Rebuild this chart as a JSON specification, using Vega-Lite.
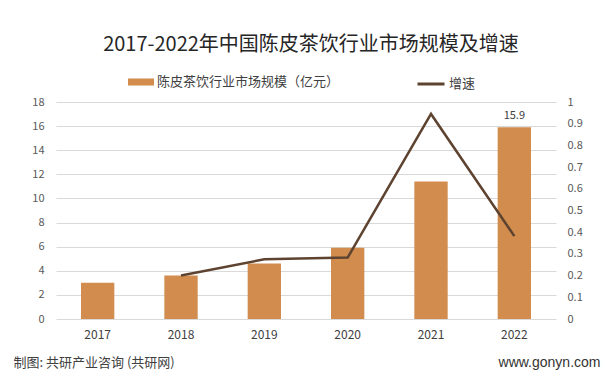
{
  "$schema": "https://vega.github.io/schema/vega-lite/v6.json",
  "autosize": {"type": "none"},
  "width": 500,
  "height": 217,
  "padding": {"left": 56, "top": 102, "right": 57, "bottom": 65},
  "background": "white",
  "config": {
    "font": "Noto Sans CJK SC",
    "view": {"stroke": null},
    "legend": {"padding": 0, "labelLimit": 400}
  },
  "title": {
    "text": "2017-2022年中国陈皮茶饮行业市场规模及增速",
    "fontSize": 20,
    "font": "Noto Sans CJK SC",
    "fontWeight": "normal",
    "color": "#262626",
    "anchor": "middle",
    "baseline": "middle",
    "offset": 0,
    "dx": 5,
    "dy": -4
  },
  "data": {
    "values": [
      {"year": "2017", "size": 3.0, "growth": null},
      {"year": "2018", "size": 3.6, "growth": 0.2},
      {"year": "2019", "size": 4.6, "growth": 0.275},
      {"year": "2020", "size": 5.9, "growth": 0.283},
      {"year": "2021", "size": 11.4, "growth": 0.945},
      {"year": "2022", "size": 15.9, "growth": 0.382}
    ]
  },
  "encoding": {
    "x": {
      "field": "year",
      "type": "ordinal",
      "scale": {"paddingInner": 0.6, "paddingOuter": 0.3},
      "axis": {
        "labelAngle": 0,
        "domain": false,
        "ticks": false,
        "labelPadding": 10,
        "labelFontSize": 12,
        "labelColor": "#404040",
        "title": "制图: 共研产业咨询 (共研网)",
        "titleX": -43,
        "titleY": 43,
        "titleAlign": "left",
        "titleBaseline": "middle",
        "titleFontSize": 13,
        "titleFontWeight": "normal",
        "titleColor": "#404040"
      }
    }
  },
  "layer": [
    {
      "mark": {"type": "bar"},
      "encoding": {
        "y": {
          "field": "size",
          "type": "quantitative",
          "scale": {"domain": [0, 18]},
          "axis": {
            "values": [0, 2, 4, 6, 8, 10, 12, 14, 16, 18],
            "grid": true,
            "gridColor": "#d9d9d9",
            "domain": false,
            "ticks": false,
            "labelPadding": 12,
            "labelFontSize": 11,
            "labelColor": "#595959",
            "title": null
          }
        },
        "fill": {
          "datum": "陈皮茶饮行业市场规模（亿元）",
          "scale": {"range": ["#d18c4e"]},
          "legend": {
            "orient": "none",
            "legendX": 72,
            "legendY": -33,
            "title": null,
            "symbolType": "M-1,-0.27L1,-0.27L1,0.27L-1,0.27Z",
            "symbolSize": 676,
            "symbolStrokeWidth": 0,
            "labelFontSize": 13,
            "labelColor": "#404040",
            "labelOffset": 3,
            "labelLimit": 400
          }
        }
      }
    },
    {
      "mark": {"type": "text", "baseline": "alphabetic", "dy": -8, "fontSize": 11, "color": "#404040"},
      "transform": [{"filter": "datum.year == '2022'"}],
      "encoding": {
        "y": {"field": "size", "type": "quantitative", "scale": {"domain": [0, 18]}, "axis": null},
        "text": {"field": "size", "type": "quantitative", "format": ".1f"}
      }
    },
    {
      "mark": {"type": "line", "strokeWidth": 2.5, "strokeJoin": "miter"},
      "transform": [{"filter": "datum.growth != null"}],
      "encoding": {
        "y": {
          "field": "growth",
          "type": "quantitative",
          "scale": {"domain": [0, 1]},
          "axis": {
            "orient": "right",
            "values": [0, 0.1, 0.2, 0.3, 0.4, 0.5, 0.6, 0.7, 0.8, 0.9, 1],
            "format": "~g",
            "grid": false,
            "domain": false,
            "ticks": false,
            "labelPadding": 11,
            "labelFontSize": 11,
            "labelColor": "#595959",
            "title": "www.gonyn.com",
            "titleAngle": 0,
            "titleX": 44,
            "titleY": 260,
            "titleAlign": "right",
            "titleBaseline": "middle",
            "titleFontSize": 14,
            "titleFontWeight": "normal",
            "titleColor": "#333333",
            "titleFont": "Liberation Sans"
          }
        },
        "stroke": {
          "datum": "增速",
          "scale": {"range": ["#5d4330"]},
          "legend": {
            "orient": "none",
            "legendX": 360,
            "legendY": -33,
            "title": null,
            "symbolType": "stroke",
            "symbolSize": 729,
            "symbolStrokeWidth": 3,
            "labelFontSize": 13,
            "labelColor": "#404040",
            "labelOffset": 3
          }
        }
      }
    }
  ],
  "resolve": {
    "scale": {"y": "independent", "fill": "independent", "stroke": "independent"},
    "legend": {"fill": "independent", "stroke": "independent"}
  }
}
